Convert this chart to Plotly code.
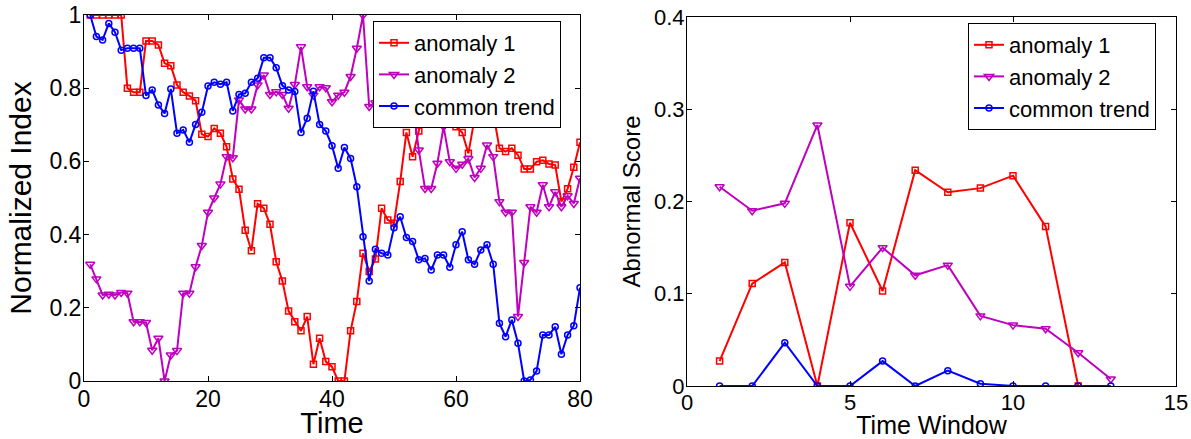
import plotly.graph_objects as go

# ---------------- Left panel data ----------------
time = list(range(1, 81))
anomaly1 = [1, 1, 1, 1, 1, 1, 0.80, 0.789, 0.789, 0.929,
            0.929, 0.918, 0.868, 0.861, 0.809, 0.789, 0.779, 0.766, 0.674, 0.668,
            0.69, 0.677, 0.640, 0.552, 0.524, 0.412, 0.356, 0.484, 0.472, 0.428,
            0.326, 0.273, 0.191, 0.162, 0.137, 0.176, 0.046, 0.117, 0.053, 0.039,
            0.0, 0.0, 0.137, 0.217, 0.349, 0.299, 0.333, 0.472, 0.44, 0.431,
            0.545, 0.679, 0.613, 0.683, 0.78, 0.84, 0.80, 0.77, 0.75, 0.695,
            0.679, 0.622, 0.718, 0.709, 0.76, 0.734, 0.636, 0.627, 0.636, 0.617,
            0.579, 0.579, 0.599, 0.603, 0.593, 0.590, 0.490, 0.525, 0.584, 0.652]
anomaly2 = [0.319, 0.279, 0.235, 0.237, 0.235, 0.242, 0.240, 0.162, 0.162, 0.160,
            0.084, 0.117, 0.0, 0.071, 0.083, 0.240, 0.240, 0.312, 0.370, 0.461,
            0.500, 0.538, 0.613, 0.610, 0.768, 0.743, 0.743, 0.809, 0.836, 0.783,
            0.79, 0.783, 0.745, 0.81, 0.913, 0.804, 0.781, 0.804, 0.801, 0.763,
            0.781, 0.789, 0.832, 0.909, 1.0, 0.750, 0.76, 0.78, 0.80, 0.82,
            0.80, 0.84, 0.76, 0.631, 0.526, 0.526, 0.595, 0.695, 0.599, 0.581,
            0.592, 0.607, 0.556, 0.581, 0.645, 0.613, 0.49, 0.461, 0.461, 0.176,
            0.324, 0.476, 0.461, 0.536, 0.476, 0.517, 0.476, 0.506, 0.485, 0.554]
common = [1.0, 0.941, 0.932, 0.977, 0.953, 0.904, 0.909, 0.909, 0.909, 0.78,
          0.795, 0.754, 0.731, 0.798, 0.677, 0.686, 0.652, 0.701, 0.734, 0.806,
          0.816, 0.811, 0.816, 0.738, 0.783, 0.786, 0.816, 0.827, 0.883, 0.883,
          0.856, 0.807, 0.795, 0.791, 0.679, 0.718, 0.792, 0.701, 0.683, 0.643,
          0.581, 0.638, 0.608, 0.531, 0.394, 0.273, 0.36, 0.349, 0.344, 0.419,
          0.449, 0.392, 0.381, 0.331, 0.335, 0.303, 0.344, 0.344, 0.311, 0.372,
          0.408, 0.331, 0.319, 0.358, 0.372, 0.319, 0.158, 0.121, 0.167, 0.103,
          0.0, 0.003, 0.027, 0.126, 0.126, 0.148, 0.073, 0.126, 0.151, 0.255]

# ---------------- Right panel data ----------------
win_a1 = list(range(1, 13))
score_a1 = [0.027, 0.111, 0.134, 0.0, 0.177, 0.103, 0.234, 0.210, 0.2145, 0.228, 0.173, 0.0]
win_a2 = list(range(1, 14))
score_a2 = [0.216, 0.190, 0.198, 0.283, 0.108, 0.150, 0.120, 0.131, 0.076, 0.066, 0.062, 0.036, 0.0076]
win_ct = list(range(1, 14))
score_ct = [0, 0, 0.047, 0, 0, 0.027, 0, 0.0166, 0.0025, 0, 0, 0, 0]

names = ["anomaly 1", "anomaly 2", "common trend"]
left_x_ticks = [0, 20, 40, 60, 80]
left_y_ticks = [0, 0.2, 0.4, 0.6, 0.8, 1]
left_y_labels = ["0", "0.2", "0.4", "0.6", "0.8", "1"]
right_x_ticks = [0, 5, 10, 15]
right_y_ticks = [0, 0.1, 0.2, 0.3, 0.4]
right_y_labels = ["0", "0.1", "0.2", "0.3", "0.4"]

RED = "#FF0000"
MAG = "#BF00BF"
BLUE = "#0000FF"
FONT = "Liberation Sans, Arial, sans-serif"

styles = [
    dict(color=RED, symbol="square-open", size=6),
    dict(color=MAG, symbol="triangle-down-open", size=8),
    dict(color=BLUE, symbol="circle-open", size=6),
]

fig = go.Figure()

for name, ys, st in zip(names, [anomaly1, anomaly2, common], styles):
    fig.add_trace(go.Scatter(
        x=time, y=ys, name=name, mode="lines+markers",
        line=dict(color=st["color"], width=2),
        marker=dict(symbol=st["symbol"], size=st["size"], color=st["color"],
                    line=dict(width=1.5, color=st["color"])),
        xaxis="x", yaxis="y", legend="legend",
    ))

for name, xs, ys, st in zip(names, [win_a1, win_a2, win_ct],
                            [score_a1, score_a2, score_ct], styles):
    fig.add_trace(go.Scatter(
        x=xs, y=ys, name=name, mode="lines+markers",
        line=dict(color=st["color"], width=2),
        marker=dict(symbol=st["symbol"], size=st["size"], color=st["color"],
                    line=dict(width=1.5, color=st["color"])),
        xaxis="x2", yaxis="y2", legend="legend2",
    ))

W, H = 1191, 439

def ax_common():
    return dict(showline=True, mirror="ticks", linecolor="black", linewidth=1,
                ticks="inside", ticklen=5, tickcolor="black", tickwidth=1,
                showgrid=False, zeroline=False, automargin=False,
                ticklabelstandoff=-3)

fig.update_layout(
    width=W, height=H,
    margin=dict(l=0, r=0, t=0, b=0),
    paper_bgcolor="white", plot_bgcolor="white",
    font=dict(family=FONT, color="black"),
    xaxis=dict(domain=[84 / W, 580 / W], range=[0, 80], tickvals=left_x_ticks,
               tickfont=dict(size=23),
               title=dict(text="Time", font=dict(size=29), standoff=6),
               anchor="y", **ax_common()),
    yaxis=dict(domain=[(H - 381) / H, (H - 15) / H], range=[0, 1],
               tickvals=left_y_ticks, ticktext=left_y_labels,
               tickfont=dict(size=23),
               title=dict(text="Normalized Index", font=dict(size=30), standoff=8),
               anchor="x", **ax_common()),
    xaxis2=dict(domain=[687 / W, 1176 / W], range=[0, 15], tickvals=right_x_ticks,
                tickfont=dict(size=22),
                title=dict(text="Time Window", font=dict(size=25), standoff=5),
                anchor="y2", **ax_common()),
    yaxis2=dict(domain=[(H - 386) / H, (H - 17) / H], range=[0, 0.4],
                tickvals=right_y_ticks, ticktext=right_y_labels,
                tickfont=dict(size=22),
                title=dict(text="Abnormal Score", font=dict(size=24), standoff=6),
                anchor="x2", **ax_common()),
    legend=dict(x=373 / W, y=(H - 21) / H, xanchor="left", yanchor="top",
                bgcolor="white", bordercolor="black", borderwidth=1,
                font=dict(size=22), tracegroupgap=0, itemwidth=30),
    legend2=dict(x=968 / W, y=(H - 23) / H, xanchor="left", yanchor="top",
                 bgcolor="white", bordercolor="black", borderwidth=1,
                 font=dict(size=22), tracegroupgap=0, itemwidth=30),
)

fig.write_html("out.html",
               config={"displayModeBar": False},
               post_script="document.body.style.margin='0px';document.body.style.overflow='hidden';")
